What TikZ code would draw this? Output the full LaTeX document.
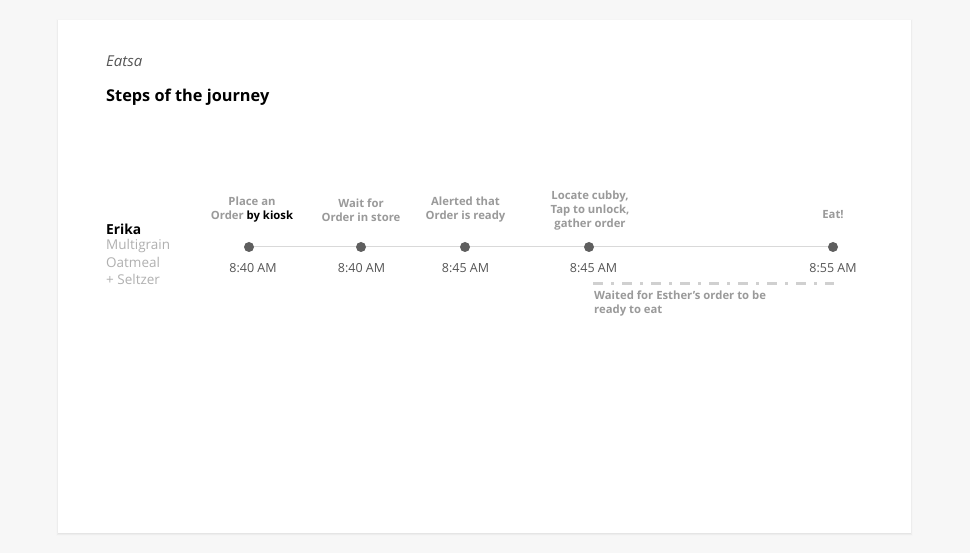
\documentclass[tikz,border=0pt]{standalone}
\usepackage{fontspec}
\setmainfont{Open Sans}
\definecolor{pagebg}{HTML}{F7F7F7}
\definecolor{dotc}{HTML}{5F5F5F}
\definecolor{timec}{HTML}{555555}
\definecolor{labc}{HTML}{9A9A9A}
\definecolor{subc}{HTML}{B0B0B0}
\definecolor{linec}{HTML}{D9D9D9}
\definecolor{dashc}{HTML}{D0D0D0}
\definecolor{titlec}{HTML}{555555}
\tikzset{
  stepdot/.style={circle,fill=dotc,minimum size=10pt,inner sep=0pt},
  steplabel/.style={font=\fontsize{11.3}{14}\selectfont\bfseries,text=labc,align=center,inner sep=0pt},
  timelabel/.style={font=\fontsize{12.5}{14}\selectfont,text=timec,inner sep=0pt},
  subtext/.style={font=\fontsize{13.5}{16.5}\selectfont,text=subc,inner sep=0pt,anchor=west},
  tline/.style={draw=linec,line width=1pt},
  waitline/.style={draw=dashc,line width=2.6pt,dash pattern=on 10pt off 8pt on 3pt off 8pt}
}
\begin{document}
\begin{tikzpicture}[x=1pt,y=-1pt]
\useasboundingbox (0,0) rectangle (970,553);
\fill[pagebg] (0,0) rectangle (970,553);
% shadow
\fill[black!4] (56,19) rectangle (913,536);
\fill[black!7] (57,20) rectangle (912,535);
\fill[black!10] (58,21) rectangle (911,534);
\fill[white] (58,20) rectangle (911,533);

\node[anchor=west,inner sep=0pt,font=\fontsize{15}{18}\selectfont\itshape,text=titlec] (brand) at (106,61) {Eatsa};
\node[anchor=west,inner sep=0pt,font=\fontsize{16.3}{19}\selectfont\bfseries] (title) at (106,97) {Steps of the journey};

\node[anchor=west,inner sep=0pt,font=\fontsize{13.8}{16}\selectfont\bfseries] (name) at (106,229) {Erika};
\node[subtext] (s1) at (106,246) {Multigrain};
\node[subtext] (s2) at (106,262.5) {Oatmeal};
\node[subtext] (s3) at (106,279) {+ Seltzer};

\node[stepdot] (d1) at (249,247) {};
\node[stepdot] (d2) at (361,247) {};
\node[stepdot] (d3) at (465,247) {};
\node[stepdot] (d4) at (589,247) {};
\node[stepdot] (d5) at (833,247) {};
\draw[tline] (d1) -- (d2);
\draw[tline] (d2) -- (d3);
\draw[tline] (d3) -- (d4);
\draw[tline] (d4) -- (d5);

\node[steplabel] (l1) at (252,210) {Place an\\Order \textcolor{black}{by kiosk}};
\node[steplabel] (l2) at (361,210) {Wait for\\Order in store};
\node[steplabel] (l3) at (465.5,210) {Alerted that\\Order is ready};
\node[steplabel] (l4) at (590,211) {Locate cubby,\\Tap to unlock,\\gather order};
\node[steplabel] (l5) at (833,215) {Eat!};

\node[timelabel] (t1) at (253,268) {8:40 AM};
\node[timelabel] (t2) at (361.5,268) {8:40 AM};
\node[timelabel] (t3) at (465.5,268) {8:45 AM};
\node[timelabel] (t4) at (593.5,268) {8:45 AM};
\node[timelabel] (t5) at (833,268) {8:55 AM};

\coordinate (w1) at (593,283.5);
\coordinate (w2) at (834,283.5);
\draw[waitline] (w1) -- (w2);
\node[steplabel,align=left,anchor=west] (wait) at (594,304) {Waited for Esther’s order to be\\ready to eat};
\end{tikzpicture}
\end{document}
